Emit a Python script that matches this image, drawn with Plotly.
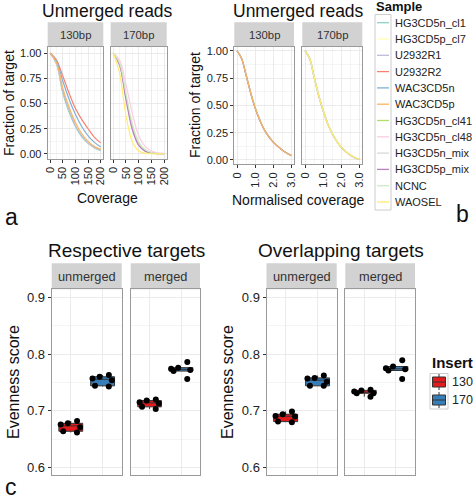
import plotly.graph_objects as go

W, H = 473, 499

# ---------------- data ----------------
samples = ["HG3CD5n_cl1", "HG3CD5p_cl7", "U2932R1", "U2932R2", "WAC3CD5n", "WAC3CD5p",
           "HG3CD5n_cl41", "HG3CD5n_cl48", "HG3CD5n_mix", "HG3CD5p_mix", "NCNC", "WAOSEL"]
sample_colors = ["#8DD3C7", "#FFFFB3", "#BEBADA", "#FB8072", "#80B1D3", "#FDB462",
                 "#B3DE69", "#FCCDE5", "#D9D9D9", "#BC80BD", "#CCEBC5", "#FFED6F"]
sample_insert = ["130bp"] * 6 + ["170bp"] * 6

coverage = [0, 25, 50, 75, 100, 125, 150, 175, 200]
raw_HG3CD5n_cl1 = [1.0, 0.89, 0.60, 0.41, 0.27, 0.17, 0.105, 0.06, 0.032]
raw_HG3CD5p_cl7 = [1.0, 0.90, 0.63, 0.44, 0.29, 0.185, 0.115, 0.068, 0.04]
raw_U2932R1 = [1.0, 0.895, 0.62, 0.43, 0.28, 0.18, 0.11, 0.065, 0.036]
raw_U2932R2 = [1.0, 0.93, 0.77, 0.60, 0.45, 0.34, 0.25, 0.165, 0.11]
raw_WAC3CD5n = [1.0, 0.92, 0.72, 0.54, 0.39, 0.27, 0.18, 0.115, 0.07]
raw_WAC3CD5p = [1.0, 0.905, 0.65, 0.46, 0.31, 0.20, 0.125, 0.075, 0.046]
raw_HG3CD5n_cl41 = [1.0, 0.89, 0.57, 0.27, 0.10, 0.035, 0.012, 0.004, 0.001]
raw_HG3CD5n_cl48 = [1.0, 0.93, 0.69, 0.40, 0.18, 0.075, 0.03, 0.012, 0.005]
raw_HG3CD5n_mix = [1.0, 0.88, 0.55, 0.25, 0.09, 0.03, 0.01, 0.003, 0.001]
raw_HG3CD5p_mix = [1.0, 0.88, 0.54, 0.24, 0.085, 0.028, 0.009, 0.003, 0.001]
raw_NCNC = [1.0, 0.90, 0.60, 0.30, 0.12, 0.045, 0.015, 0.005, 0.002]
raw_WAOSEL = [1.0, 0.80, 0.38, 0.12, 0.03, 0.008, 0.002, 0.001, 0.0]

norm_coverage = [0, 0.25, 0.5, 0.75, 1.0, 1.25, 1.5, 1.75, 2.0, 2.25, 2.5, 2.75, 3.0]
norm_HG3CD5n_cl1 = [1.0, 0.93, 0.78, 0.62, 0.48, 0.37, 0.28, 0.215, 0.165, 0.125, 0.09, 0.062, 0.04]
norm_HG3CD5p_cl7 = [1.0, 0.93, 0.785, 0.625, 0.485, 0.37, 0.28, 0.215, 0.165, 0.124, 0.09, 0.061, 0.04]
norm_U2932R1 = [1.0, 0.932, 0.78, 0.62, 0.478, 0.368, 0.279, 0.214, 0.164, 0.124, 0.089, 0.061, 0.039]
norm_U2932R2 = [1.0, 0.928, 0.775, 0.615, 0.475, 0.366, 0.278, 0.214, 0.164, 0.125, 0.091, 0.063, 0.042]
norm_WAC3CD5n = [1.0, 0.93, 0.778, 0.618, 0.478, 0.37, 0.28, 0.216, 0.166, 0.126, 0.091, 0.063, 0.041]
norm_WAC3CD5p = [1.0, 0.93, 0.78, 0.62, 0.48, 0.37, 0.28, 0.215, 0.165, 0.125, 0.09, 0.062, 0.04]
norm_HG3CD5n_cl41 = [1.0, 0.935, 0.765, 0.595, 0.455, 0.335, 0.243, 0.172, 0.117, 0.077, 0.046, 0.021, 0.006]
norm_HG3CD5n_cl48 = [1.0, 0.93, 0.76, 0.59, 0.45, 0.332, 0.24, 0.17, 0.115, 0.075, 0.045, 0.02, 0.005]
norm_HG3CD5n_mix = [1.0, 0.93, 0.76, 0.59, 0.45, 0.33, 0.24, 0.17, 0.115, 0.075, 0.045, 0.02, 0.005]
norm_HG3CD5p_mix = [1.0, 0.928, 0.758, 0.588, 0.448, 0.33, 0.239, 0.169, 0.114, 0.074, 0.044, 0.019, 0.005]
norm_NCNC = [1.0, 0.932, 0.762, 0.592, 0.452, 0.333, 0.241, 0.171, 0.116, 0.076, 0.046, 0.021, 0.006]
norm_WAOSEL = [1.0, 0.93, 0.76, 0.59, 0.45, 0.33, 0.24, 0.17, 0.115, 0.075, 0.045, 0.02, 0.005]

raw_curves = [raw_HG3CD5n_cl1, raw_HG3CD5p_cl7, raw_U2932R1, raw_U2932R2, raw_WAC3CD5n, raw_WAC3CD5p,
              raw_HG3CD5n_cl41, raw_HG3CD5n_cl48, raw_HG3CD5n_mix, raw_HG3CD5p_mix, raw_NCNC, raw_WAOSEL]
norm_curves = [norm_HG3CD5n_cl1, norm_HG3CD5p_cl7, norm_U2932R1, norm_U2932R2, norm_WAC3CD5n, norm_WAC3CD5p,
               norm_HG3CD5n_cl41, norm_HG3CD5n_cl48, norm_HG3CD5n_mix, norm_HG3CD5p_mix, norm_NCNC, norm_WAOSEL]

inserts = ["130", "170"]
insert_colors = ["#E41A1C", "#377EB8"]
read_types = ["unmerged", "merged"]

resp_unmerged_130 = [0.662, 0.664, 0.671, 0.676, 0.678, 0.682]
resp_unmerged_170 = [0.743, 0.744, 0.754, 0.757, 0.760, 0.763]
resp_merged_130 = [0.703, 0.707, 0.713, 0.715, 0.718, 0.720]
resp_merged_170 = [0.756, 0.770, 0.772, 0.774, 0.776, 0.786]
over_unmerged_130 = [0.680, 0.681, 0.690, 0.691, 0.694, 0.699]
over_unmerged_170 = [0.744, 0.744, 0.751, 0.757, 0.758, 0.762]
over_merged_130 = [0.725, 0.731, 0.731, 0.734, 0.736, 0.737]
over_merged_170 = [0.756, 0.771, 0.773, 0.775, 0.778, 0.789]

# ---------------- helpers ----------------
def xd(a, b):
    return [a / W, b / W]

def yd(top, bottom):
    return [1 - bottom / H, 1 - top / H]

def px(x):
    return x / W

def py(y):
    return 1 - y / H

FONT = "Liberation Sans"
fig = go.Figure()

# ---------------- panels a & b: curves ----------------
for i, s in enumerate(samples):
    facet = 0 if sample_insert[i] == "130bp" else 1
    fig.add_trace(go.Scatter(x=coverage, y=raw_curves[i], mode="lines",
                             line=dict(color=sample_colors[i], width=1.2, shape="spline"),
                             xaxis="x" if facet == 0 else "x2", yaxis="y" if facet == 0 else "y2",
                             showlegend=False, hoverinfo="skip"))
    fig.add_trace(go.Scatter(x=norm_coverage, y=norm_curves[i], mode="lines",
                             line=dict(color=sample_colors[i], width=1.2, shape="spline"),
                             xaxis="x3" if facet == 0 else "x4", yaxis="y3" if facet == 0 else "y4",
                             showlegend=False, hoverinfo="skip"))

# ---------------- panel c: boxes ----------------
box_sets = [
    ("x5", "y5", [resp_unmerged_130, resp_unmerged_170]),
    ("x6", "y6", [resp_merged_130, resp_merged_170]),
    ("x7", "y7", [over_unmerged_130, over_unmerged_170]),
    ("x8", "y8", [over_merged_130, over_merged_170]),
]
for xa, ya, groups in box_sets:
    for k, vals in enumerate(groups):
        fig.add_trace(go.Box(y=vals, x=[inserts[k]] * len(vals), xaxis=xa, yaxis=ya,
                             fillcolor=insert_colors[k], line=dict(color="#333333", width=1),
                             boxpoints="all", jitter=1, pointpos=0, whiskerwidth=0,
                             marker=dict(color="black", size=6), width=0.75,
                             showlegend=False, hoverinfo="skip"))

# ---------------- axes ----------------
base = dict(showline=True, linecolor="#9a9a9a", linewidth=1, mirror=True,
            showgrid=True, gridcolor="#e6e6e6", gridwidth=0.8, zeroline=False,
            ticks="outside", ticklen=3, tickcolor="#333333", automargin=False,
            tickfont=dict(family=FONT, size=11, color="#222222"))

ab_y = dict(range=[-0.045, 1.063], tickvals=[0, 0.25, 0.5, 0.75, 1.0],
            ticktext=["0.00", "0.25", "0.50", "0.75", "1.00"],
            minor=dict(tickvals=[0.125, 0.375, 0.625, 0.875], showgrid=True,
                       gridcolor="#f3f3f3", ticks=""))
a_x = dict(range=[-10, 210], tickvals=[0, 50, 100, 150, 200], tickangle=-90,
           minor=dict(tickvals=[25, 75, 125, 175], showgrid=True, gridcolor="#f3f3f3", ticks=""))
b_x = dict(range=[-0.15, 3.15], tickvals=[0, 1, 2, 3], ticktext=["0", "1.0", "2.0", "3.0"],
           tickangle=-90,
           minor=dict(tickvals=[0.5, 1.5, 2.5], showgrid=True, gridcolor="#f3f3f3", ticks=""))

lay = {}
lay["xaxis"] = dict(base, domain=xd(47.7, 103.3), anchor="y", **a_x)
lay["xaxis2"] = dict(base, domain=xd(110.7, 166.7), anchor="y2", **a_x)
lay["yaxis"] = dict(base, domain=yd(46.7, 158.5), anchor="x", **ab_y)
lay["yaxis2"] = dict(base, domain=yd(46.7, 158.5), anchor="x2", **ab_y)
lay["yaxis2"].update(showticklabels=False, ticks="")
lay["xaxis3"] = dict(base, domain=xd(234.3, 294), anchor="y3", **b_x)
lay["xaxis4"] = dict(base, domain=xd(302.3, 362.3), anchor="y4", **b_x)
b_y = dict(ab_y)
b_y["range"] = [-0.037, 1.037]
lay["yaxis3"] = dict(base, domain=yd(46.7, 164), anchor="x3", **b_y)
lay["yaxis4"] = dict(base, domain=yd(46.7, 164), anchor="x4", **b_y)
lay["yaxis4"].update(showticklabels=False, ticks="")

c_y = dict(range=[0.587, 0.914], tickvals=[0.6, 0.7, 0.8, 0.9],
           ticktext=["0.6", "0.7", "0.8", "0.9"],
           minor=dict(tickvals=[0.65, 0.75, 0.85], showgrid=True, gridcolor="#f3f3f3", ticks=""))
c_x = dict(type="category", categoryorder="array", categoryarray=inserts,
           range=[-0.6, 1.6], showticklabels=False, ticks="")
c_doms = [(51.7, 121.7), (130.7, 200), (266.5, 336.7), (345.3, 415)]
for j, (a, b) in enumerate(c_doms):
    n = j + 5
    lay[f"xaxis{n}"] = dict(base, domain=xd(a, b), anchor=f"y{n}", **c_x)
    yax = dict(base, domain=yd(289.3, 475), anchor=f"x{n}", **c_y)
    yax["tickfont"] = dict(family=FONT, size=13, color="#222222")
    if j in (1, 3):
        yax.update(showticklabels=False, ticks="")
    lay[f"yaxis{n}"] = yax

# ---------------- strips & texts ----------------
shapes = []
annotations = []

def text(t, x, y, size, angle=0, bold=False, xanchor="center", color="#111111"):
    annotations.append(dict(text=f"<b>{t}</b>" if bold else t, x=px(x), y=py(y),
                            xref="paper", yref="paper", showarrow=False, textangle=angle,
                            xanchor=xanchor, yanchor="middle",
                            font=dict(family=FONT, size=size, color=color)))

def strip(x0, x1, y0, y1, t, size):
    shapes.append(dict(type="rect", xref="paper", yref="paper", x0=px(x0), x1=px(x1),
                       y0=py(y1), y1=py(y0), fillcolor="#d2d2d2", line=dict(width=0),
                       layer="below"))
    text(t, (x0 + x1) / 2, (y0 + y1) / 2, size, color="#333333")

strip(47.7, 103.3, 22.3, 46.7, "130bp", 11.3)
strip(110.7, 166.7, 22.3, 46.7, "170bp", 11.3)
strip(234.3, 294, 22.3, 46.7, "130bp", 11.3)
strip(302.3, 362.3, 22.3, 46.7, "170bp", 11.3)
for j, (a, b) in enumerate(c_doms):
    strip(a, b, 263.3, 289.3, read_types[j % 2], 12.8)

text("Unmerged reads", 107, 11, 17.5)
text("Unmerged reads", 298, 11, 17.5)
text("Fraction of target", 9, 103, 14, angle=-90)
text("Fraction of target", 195, 105, 14, angle=-90)
text("Coverage", 107, 198, 14)
text("Normalised coverage", 298, 200, 14)
text("a", 11, 217, 23)
text("b", 462, 214, 23)
text("c", 11, 487, 23)
text("Respective targets", 126, 251, 19)
text("Overlapping targets", 341, 251, 19)
text("Evenness score", 13, 382, 16, angle=-90)
text("Evenness score", 227, 382, 16, angle=-90)

# ---------------- Sample legend ----------------
text("Sample", 374, 6, 13, bold=True, xanchor="left")
shapes.append(dict(type="rect", xref="paper", yref="paper", x0=px(375), x1=px(391),
                   y0=py(210), y1=py(14.5), fillcolor="white",
                   line=dict(color="#cccccc", width=1)))
for i, s in enumerate(samples):
    yy = 22.7 + i * 16.3
    shapes.append(dict(type="line", xref="paper", yref="paper", x0=px(377), x1=px(389),
                       y0=py(yy), y1=py(yy), line=dict(color=sample_colors[i], width=1.3)))
    text(s, 393, yy, 11, xanchor="left", color="#222222")

# ---------------- Insert legend ----------------
text("Insert", 430, 362, 15, bold=True, xanchor="left")
shapes.append(dict(type="rect", xref="paper", yref="paper", x0=px(430), x1=px(448),
                   y0=py(409), y1=py(373.5), fillcolor="white",
                   line=dict(color="#cccccc", width=1)))
for k, ins in enumerate(inserts):
    yc = 382 + k * 18
    shapes.append(dict(type="line", xref="paper", yref="paper", x0=px(439), x1=px(439),
                       y0=py(yc + 8), y1=py(yc - 8), line=dict(color="#333333", width=1)))
    shapes.append(dict(type="rect", xref="paper", yref="paper", x0=px(432.5), x1=px(445.5),
                       y0=py(yc + 5), y1=py(yc - 5), fillcolor=insert_colors[k],
                       line=dict(color="#333333", width=1)))
    shapes.append(dict(type="line", xref="paper", yref="paper", x0=px(432.5), x1=px(445.5),
                       y0=py(yc), y1=py(yc), line=dict(color="#333333", width=1)))
    text(ins, 449.5, yc, 12.5, xanchor="left", color="#222222")

fig.update_layout(template="none", width=W, height=H, autosize=False,
                  margin=dict(l=0, r=0, t=0, b=0, pad=0),
                  paper_bgcolor="white", plot_bgcolor="white",
                  showlegend=False, boxmode="overlay",
                  font=dict(family=FONT),
                  shapes=shapes, annotations=annotations, **lay)

fig.write_html("out.html", config={"displayModeBar": False, "staticPlot": True},
               post_script="document.body.style.margin='0';document.body.style.padding='0';")
